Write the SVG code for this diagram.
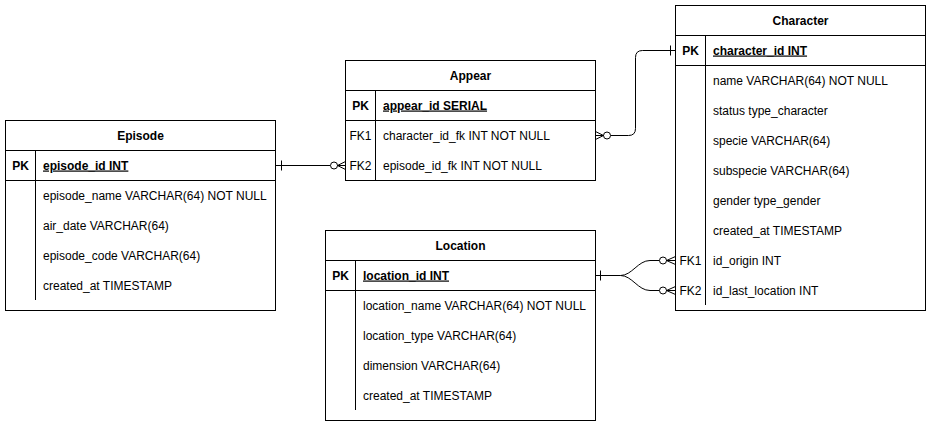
<svg xmlns="http://www.w3.org/2000/svg" width="931" height="426" viewBox="0 0 931 426">
<style>
.box{fill:#fff;stroke:#000;stroke-width:1}
.ln{stroke:#000;stroke-width:1;fill:none}
text{font-family:"Liberation Sans",Arial,sans-serif;font-size:12px;fill:#000}
.t{font-weight:bold;text-anchor:middle}
.k{text-anchor:middle}
.kb{text-anchor:middle;font-weight:bold}
.pk{font-weight:bold;text-decoration:underline}
.c{fill:#fff;stroke:#000;stroke-width:1}
</style>
<rect width="931" height="426" fill="#fff"/>
<g id="episode">
<rect class="box" x="5.5" y="120.5" width="270" height="190"/>
<path class="ln" d="M5.5 150.5H275.5M5.5 180.5H275.5M35.5 150.5V300"/>
<text class="t" x="140.5" y="139.5">Episode</text>
<text class="kb" x="20.5" y="169.5">PK</text>
<text class="pk" x="43" y="169.5">episode_id INT</text>
<text x="43" y="199.5">episode_name VARCHAR(64) NOT NULL</text>
<text x="43" y="229.5">air_date VARCHAR(64)</text>
<text x="43" y="259.5">episode_code VARCHAR(64)</text>
<text x="43" y="289.5">created_at TIMESTAMP</text>
</g>
<g id="appear">
<rect class="box" x="345.5" y="60.5" width="250" height="120"/>
<path class="ln" d="M345.5 90.5H595.5M345.5 120.5H595.5M375.5 90.5V180.5"/>
<text class="t" x="470.5" y="79.5">Appear</text>
<text class="kb" x="360.5" y="109.5">PK</text>
<text class="pk" x="383" y="109.5">appear_id SERIAL</text>
<text class="k" x="360.5" y="139.5">FK1</text>
<text x="383" y="139.5">character_id_fk INT NOT NULL</text>
<text class="k" x="360.5" y="169.5">FK2</text>
<text x="383" y="169.5">episode_id_fk INT NOT NULL</text>
</g>
<g id="character">
<rect class="box" x="675.5" y="5.5" width="250" height="305"/>
<path class="ln" d="M675.5 35.5H925.5M675.5 65.5H925.5M705.5 35.5V305"/>
<text class="t" x="800.5" y="24.5">Character</text>
<text class="kb" x="690.5" y="54.5">PK</text>
<text class="pk" x="713" y="54.5">character_id INT</text>
<text x="713" y="84.5">name VARCHAR(64) NOT NULL</text>
<text x="713" y="114.5">status type_character</text>
<text x="713" y="144.5">specie VARCHAR(64)</text>
<text x="713" y="174.5">subspecie VARCHAR(64)</text>
<text x="713" y="204.5">gender type_gender</text>
<text x="713" y="234.5">created_at TIMESTAMP</text>
<text class="k" x="690.5" y="264.5">FK1</text>
<text x="713" y="264.5">id_origin INT</text>
<text class="k" x="690.5" y="294.5">FK2</text>
<text x="713" y="294.5">id_last_location INT</text>
</g>
<g id="location">
<rect class="box" x="325.5" y="230.5" width="270" height="190"/>
<path class="ln" d="M325.5 260.5H595.5M325.5 290.5H595.5M355.5 260.5V410"/>
<text class="t" x="460.5" y="249.5">Location</text>
<text class="kb" x="340.5" y="279.5">PK</text>
<text class="pk" x="363" y="279.5">location_id INT</text>
<text x="363" y="309.5">location_name VARCHAR(64) NOT NULL</text>
<text x="363" y="339.5">location_type VARCHAR(64)</text>
<text x="363" y="369.5">dimension VARCHAR(64)</text>
<text x="363" y="399.5">created_at TIMESTAMP</text>
</g>
<g id="connectors">
<path class="ln" d="M275.5 165.5H330.5"/>
<path class="ln" d="M281.5 160.5V170.5"/>
<circle class="c" cx="334" cy="165.5" r="3.5"/>
<path class="ln" d="M337.5 165.5H345.5M337.5 165.5L345.5 161.5M337.5 165.5L345.5 169.5"/>
<path class="ln" d="M610.5 135.5H628.5Q635.5 135.5 635.5 128.5V57.5Q635.5 50.5 642.5 50.5H675.5"/>
<circle class="c" cx="607" cy="135.5" r="3.5"/>
<path class="ln" d="M603.5 135.5H595.5M603.5 135.5L595.5 131.5M603.5 135.5L595.5 139.5"/>
<path class="ln" d="M670.5 45.5V55.5"/>
<path class="ln" d="M595.5 275.5H620.5C632 275.5 638 260.5 650 260.5H659.5"/>
<path class="ln" d="M620.5 275.5C632 275.5 638 290.5 650 290.5H659.5"/>
<path class="ln" d="M600.5 270.5V280.5"/>
<circle class="c" cx="663" cy="260.5" r="3.5"/>
<path class="ln" d="M666.5 260.5H675.5M666.5 260.5L675.5 256.5M666.5 260.5L675.5 264.5"/>
<circle class="c" cx="663" cy="290.5" r="3.5"/>
<path class="ln" d="M666.5 290.5H675.5M666.5 290.5L675.5 286.5M666.5 290.5L675.5 294.5"/>
</g>
</svg>
